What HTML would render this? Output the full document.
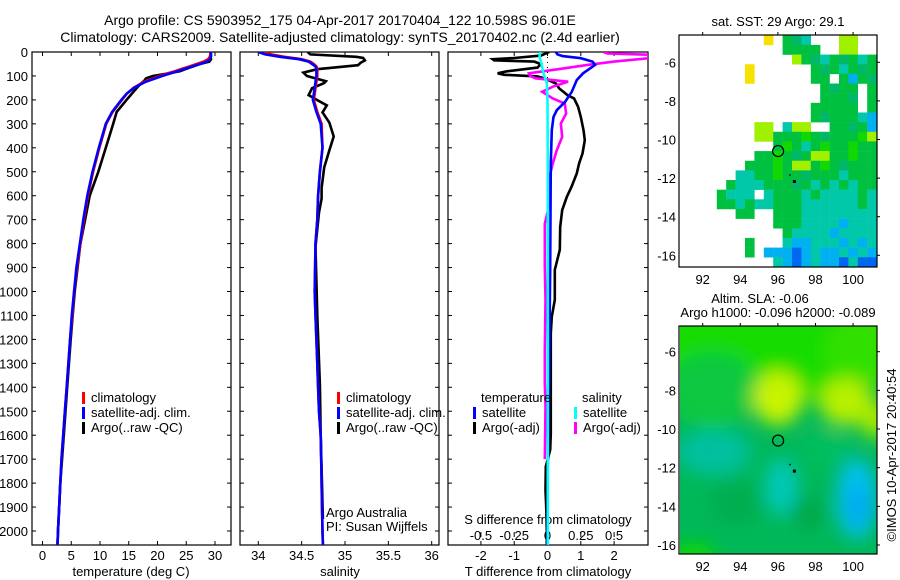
<!DOCTYPE html>
<html><head><meta charset="utf-8"><style>
html,body{margin:0;padding:0;background:#fff;}
svg{display:block;font-family:"Liberation Sans",Arial,sans-serif;}
</style></head><body>
<svg id="fig" width="900" height="580" viewBox="0 0 900 580" xmlns="http://www.w3.org/2000/svg">
<defs>
<clipPath id="c1"><rect x="32" y="52" width="199" height="493"/></clipPath>
<clipPath id="c2"><rect x="240" y="52" width="199" height="493"/></clipPath>
<clipPath id="c3"><rect x="448" y="52" width="200" height="493"/></clipPath>
<clipPath id="cm1"><rect x="679" y="35" width="198" height="232"/></clipPath>
<clipPath id="cm2"><rect x="680" y="326" width="197" height="228"/></clipPath>
<filter id="blur" x="-50%" y="-50%" width="200%" height="200%"><feGaussianBlur stdDeviation="9"/></filter>
</defs>
<g font-size="14" text-anchor="middle" fill="#000">
<text x="340" y="25">Argo profile: CS 5903952_175 04-Apr-2017 20170404_122 10.598S 96.01E</text>
<text x="340" y="42">Climatology: CARS2009. Satellite-adjusted climatology: synTS_20170402.nc (2.4d earlier)</text>
</g>
<g id="p1"></g>
<g id="p2"></g>
<g id="p3"></g>
<g id="m1"></g>
<g id="m2"></g>
<text x="0" y="0" font-size="13" text-anchor="middle" transform="translate(896,455) rotate(-90)">©IMOS 10-Apr-2017 20:40:54</text>
</svg>
<script>
// ---- data ----
const depthC = [0,10,20,30,40,50,60,70,80,90,100,125,150,175,200,250,300,400,500,600,700,800,900,1000,1100,1200,1300,1400,1500,1600,1700,1800,1900,2000,2058];
const tClim = [29.2,29.2,29.1,28.8,28.0,26.8,25.6,24.3,23.0,21.6,20.4,17.6,15.8,14.6,13.8,12.2,11.1,9.9,8.8,7.9,7.2,6.6,6.0,5.5,5.2,4.8,4.5,4.2,3.9,3.6,3.3,3.1,2.9,2.7,2.6];
const tSat = [29.3,29.3,29.3,29.1,28.6,27.4,26.1,24.8,23.5,22.1,20.8,17.9,15.9,14.6,13.7,12.1,11.0,9.8,8.7,7.8,7.1,6.5,5.9,5.5,5.1,4.8,4.5,4.2,3.9,3.6,3.3,3.1,2.9,2.7,2.6];
const depthA = [0,20,30,40,50,60,70,80,90,100,110,120,130,150,200,250,300,400,500,600,700,800,1000,1200,1400,1600,1800,2000,2058];
const tArgo = [29.2,29.2,29.3,29.0,27.4,26.2,25.0,23.9,21.6,19.2,18.0,17.7,17.2,16.4,14.6,12.9,12.3,11.0,9.7,8.2,7.4,6.6,5.6,4.9,4.3,3.7,3.1,2.7,2.6];
const sClim = [34.08,34.15,34.3,34.5,34.6,34.64,34.67,34.68,34.68,34.68,34.68,34.67,34.66,34.65,34.64,34.68,34.73,34.74,34.71,34.69,34.68,34.66,34.655,34.65,34.66,34.67,34.68,34.69,34.7,34.72,34.725,34.73,34.735,34.74,34.745];
const sSat = [34.0,34.08,34.25,34.47,34.58,34.62,34.66,34.67,34.67,34.67,34.67,34.66,34.65,34.64,34.63,34.67,34.72,34.74,34.71,34.69,34.68,34.66,34.655,34.65,34.66,34.67,34.68,34.69,34.7,34.72,34.725,34.73,34.735,34.74,34.745];
const depthSA = [0,10,20,25,35,45,55,72,86,100,122,130,151,180,201,223,252,295,353,410,482,568,612,670,813,1100,1390,1600,1800,1950];
const sArgo = [34.57,34.6,35.13,35.21,35.23,35.18,35.15,34.68,34.52,34.56,34.78,34.76,34.62,34.58,34.68,34.79,34.74,34.82,34.87,34.82,34.76,34.73,34.73,34.7,34.66,34.68,34.71,34.72,34.735,34.745];
const depthDT = [0,15,25,30,35,40,50,65,80,89,95,102,110,131,152,180,194,229,271,326,368,424,465,507,563,605,660,730,826,910,1035,1105,1175,1313,1452,1592,1661,1731,1828,1898,1996,2058];
const dtArgo = [0.05,-0.2,-1.0,-1.65,-1.6,-0.4,-0.2,-0.3,-1.2,-1.5,-1.3,-0.3,-0.1,0.25,0.35,0.6,0.8,0.92,1.0,1.08,1.12,1.05,0.95,0.88,0.72,0.58,0.44,0.38,0.37,0.22,0.22,0.13,0.1,0.1,0.1,0.1,0.08,-0.05,-0.06,-0.04,-0.02,-0.02];
const depthDS = [0,10,17,26,40,54,89,117,166,208,243,271,326,465,896,1175,1452,1731,2058];
const dtSat = [0.25,0.3,0.45,1.0,1.35,1.43,1.07,0.88,0.73,0.53,0.28,0.18,0.13,0.1,0.08,0.06,0.04,0.01,0.0];
const depthCS = [0,20,50,90,130,200,500,1000,1500,2058];
const dsSat = [-0.055,-0.06,-0.045,-0.03,-0.005,0,0.002,0.002,0.002,0.002];
const depthMS = [0,6,12,25,40,54,70,89,100,110,124,145,166,194,215,257,299,354,410,465,521,577,647,716,896,1035,1244,1383,1480,1700];
const dsArgo = [0.42,0.45,0.8,0.78,0.5,0.3,0.1,-0.14,-0.13,-0.09,0.155,0.04,-0.04,0.04,0.13,0.14,0.1,0.11,0.07,0.04,0.015,0.02,0.01,-0.02,-0.02,-0.015,-0.02,-0.02,-0.015,-0.02];
const depthTicks = [0,100,200,300,400,500,600,700,800,900,1000,1100,1200,1300,1400,1500,1600,1700,1800,1900,2000];
const tTicks = [0,5,10,15,20,25,30];
const sTicks = [34,34.5,35,35.5,36];
const dTTicks = [-2,-1,0,1,2];
const dSTicks = [-0.5,-0.25,0,0.25,0.5];
const dSTickLabels = ["-0.5","-0.25","0","0.25","0.5"];
const lonTicks = [92,94,96,98,100];
const latTicks = [-6,-8,-10,-12,-14,-16];
const sstRows = [
".........Y.gtc...yy..",
"...........gggg..yy..",
"............ygtcgtgcg",
".......Y......gtgcgtg",
".......Y......gg.gbgt",
"...............gtgg.g",
"...............gggt.g",
"..............ggggg.g",
"..............gtgggcb",
"........yy.cyy..ggtgb",
"........yygggGgtgggGy",
"..........gGgcgGggGgg",
"........ggGgtgyyggGgg",
".......gggGgyygGgtggg",
"......ccggGggtgggcggg",
".....gcccgggtgcgcgcgg",
"....gccc.cgggcgccccgc",
"....ggcgccgggccccccgc",
"......gg..gggcccccccc",
"..........gggccccbccc",
"...........gccccbcccc",
".......g...cbbcccbcbc",
".......g.bbbBbcbbcbcb",
"..........cbBbcbbBcBB"];
const argoLon = 96.01, argoLat = -10.6;

// ---- scales ----
const NS="http://www.w3.org/2000/svg";
const yD = d => 52 + d*0.2395;
const xT = t => 42.5 + t*5.75;
const xS = s => 258.3 + (s-34)*86.7;
const xDT = t => 547.5 + t*33.3;
const xDS = s => 547.5 + s*133.2;
const lonX = l => 702.7 + (l-92)*18.8;
const latY1 = a => 62.3 + (-6-a)*19.3;
const latY2 = a => 351.7 + (-6-a)*19.33;

function mk(tag, attrs, parent){
  const e=document.createElementNS(NS,tag);
  for(const k in attrs) e.setAttribute(k,attrs[k]);
  parent.appendChild(e); return e;
}
function txt(parent,x,y,s,anchor,size){
  const t=mk('text',{x:x,y:y,'font-size':size||13,'text-anchor':anchor||'middle'},parent);
  t.textContent=s; return t;
}
function line(parent,xs,ys,fx,color,clip,w){
  let d='';
  for(let i=0;i<xs.length;i++){ d+=(i?'L':'M')+fx(xs[i]).toFixed(1)+','+yD(ys[i]).toFixed(1); }
  return mk('path',{d:d,fill:'none',stroke:color,'stroke-width':w||2.6,'clip-path':'url(#'+clip+')'},parent);
}
function frame(parent,x0,x1){
  const f=mk('rect',{x:x0,y:52,width:x1-x0,height:493,fill:'none',stroke:'#000','stroke-width':1.2},parent);
  
  
  for(const d of depthTicks){
    mk('line',{x1:x0,x2:x0+4,y1:yD(d),y2:yD(d),stroke:'#000'},parent);
    mk('line',{x1:x1-4,x2:x1,y1:yD(d),y2:yD(d),stroke:'#000'},parent);
  }
}
function legend(parent,x,y,color,label){
  const g=mk('g',{},parent);
  
  
  mk('rect',{x:x,y:y-10,width:3,height:12,fill:color},g);
  txt(g,x+9,y,label,'start',13);
}

// ---- panel 1: temperature ----
const p1=document.getElementById('p1');
frame(p1,32,231);
for(const d of depthTicks){ const t=txt(p1,28,yD(d)+5,String(d),'end',13);   }
for(const t of tTicks){
  mk('line',{x1:xT(t),x2:xT(t),y1:545,y2:541,stroke:'#000'},p1);
  mk('line',{x1:xT(t),x2:xT(t),y1:52,y2:56,stroke:'#000'},p1);
  const l=txt(p1,xT(t),560,String(t));  
}
const xl1=txt(p1,131,576,'temperature (deg C)');  
let s;
s=line(p1,tArgo,depthA,xT,'#000','c1');  
s=line(p1,tClim,depthC,xT,'#f00','c1');  
s=line(p1,tSat,depthC,xT,'#00f','c1');  
legend(p1,82,402,'#f00','climatology');
legend(p1,82,417,'#00f','satellite-adj. clim.');
legend(p1,82,432,'#000','Argo(..raw -QC)');

// ---- panel 2: salinity ----
const p2=document.getElementById('p2');
frame(p2,240,439);
for(const v of sTicks){
  mk('line',{x1:xS(v),x2:xS(v),y1:545,y2:541,stroke:'#000'},p2);
  mk('line',{x1:xS(v),x2:xS(v),y1:52,y2:56,stroke:'#000'},p2);
  const l=txt(p2,xS(v),560,String(v));  
}
const xl2=txt(p2,340,576,'salinity');  
s=line(p2,sArgo,depthSA,xS,'#000','c2');  
s=line(p2,sClim,depthC,xS,'#f00','c2');  
s=line(p2,sSat,depthC,xS,'#00f','c2');  
legend(p2,337,402,'#f00','climatology');
legend(p2,337,417,'#00f','satellite-adj. clim.');
legend(p2,337,432,'#000','Argo(..raw -QC)');
const pa=txt(p2,326,517,'Argo Australia','start');  
const pi=txt(p2,326,531,'PI: Susan Wijffels','start');  

// ---- panel 3: differences ----
const p3=document.getElementById('p3');
frame(p3,448,648);
for(const v of dTTicks){
  mk('line',{x1:xDT(v),x2:xDT(v),y1:545,y2:541,stroke:'#000'},p3);
  mk('line',{x1:xDT(v),x2:xDT(v),y1:52,y2:56,stroke:'#000'},p3);
  const l=txt(p3,xDT(v),560,String(v));  
}
dSTicks.forEach((v,i)=>{
  mk('line',{x1:xDS(v),x2:xDS(v),y1:532,y2:537,stroke:'#000'},p3);
  const l=txt(p3,xDS(v),540,dSTickLabels[i]);  
});
mk('line',{x1:xDT(0),x2:xDT(0),y1:52,y2:125,stroke:'#000','stroke-dasharray':'1,4'},p3);
const st=txt(p3,548,524,'S difference from climatology');  
const tt=txt(p3,548,576,'T difference from climatology');  
s=line(p3,dtArgo,depthDT,xDT,'#000','c3');  
s=line(p3,dsArgo,depthMS,xDS,'#f0f','c3');  
s=line(p3,dtSat,depthDS,xDT,'#00f','c3');  
s=line(p3,dsSat,depthCS,xDS,'#0ff','c3');  
const lt=txt(p3,481,402,'temperature','start');  
legend(p3,473,417,'#00f','satellite');
legend(p3,473,432,'#000','Argo(-adj)');
const ls=txt(p3,582,402,'salinity','start');  
legend(p3,574,417,'#0ff','satellite');
legend(p3,574,432,'#f0f','Argo(-adj)');

// ---- maps ----
function mapAxes(g,top,bottom,latY){
  mk('rect',{x:679,y:top,width:198,height:bottom-top,fill:'none',stroke:'#000','stroke-width':1.2},g);
  for(const l of lonTicks){
    mk('line',{x1:lonX(l),x2:lonX(l),y1:top-3,y2:top,stroke:'#000'},g);
    const t=txt(g,lonX(l),bottom+17,String(l));  
  }
  for(const a of latTicks){
    mk('line',{x1:877,x2:880,y1:latY(a),y2:latY(a),stroke:'#000'},g);
    const t=txt(g,676,latY(a)+5,String(a),'end');  
  }
  mk('circle',{cx:lonX(argoLon),cy:latY(argoLat),r:5.5,fill:'none',stroke:'#000','stroke-width':1.2},g);
  mk('rect',{x:lonX(96.6),y:latY(-11.8),width:1.5,height:1.5,fill:'#000'},g);
  mk('rect',{x:lonX(96.85)-1,y:latY(-12.15)-1,width:3,height:3,fill:'#000'},g);
}
const colors={g:'#00c040',G:'#10d800',t:'#00b868',c:'#00c8a8',b:'#00b0f0',B:'#0068f0',y:'#a0f000',Y:'#f8e000'};
const m1=document.getElementById('m1');
const t1=txt(m1,778,26,'sat. SST: 29 Argo: 29.1');  
const cells=mk('g',{'clip-path':'url(#cm1)'},m1);


sstRows.forEach((row,r)=>{
  for(let c=0;c<row.length;c++){
    const ch=row[c]; if(!colors[ch]) continue;
    mk('rect',{x:lonX(90.75+0.5*c),y:latY1(-4.6-0.5*r),width:9.6,height:9.9,fill:colors[ch]},cells);
  }
});
mapAxes(m1,35,267,latY1);

const m2=document.getElementById('m2');
const t2=txt(m2,760,303,'Altim. SLA: -0.06');  
const t3=txt(m2,778,317,'Argo h1000: -0.096 h2000: -0.089');  
const fld=mk('g',{'clip-path':'url(#cm2)'},m2);


mk('rect',{x:679,y:326,width:198,height:228,fill:'#00b858'},fld);
const blobs=mk('g',{filter:'url(#blur)'},fld);
const blobList=[
 [96,-5.5,7,3.2,'#18dc00'],[92.5,-8,2.5,2,'#10c840'],[100.5,-6,2,2,'#30e000'],
 [96,-8.4,1.3,1.4,'#c8f400'],[99.6,-8.6,1.4,1.2,'#b8f000'],[101.2,-9.5,0.8,1,'#a8e800'],
 [92.6,-11.2,2,1.2,'#00c0a0'],[96.2,-13,0.9,1.5,'#00c8b8'],[100.2,-13.6,1.1,2.1,'#00c0f0'],
 [100.3,-14,0.6,1,'#00a8f0'],[97.6,-14.3,0.9,0.9,'#00a848'],[93.8,-13.8,1.4,1.2,'#00ae50'],
 [91.5,-16.5,1.2,0.6,'#10d800'],[98.5,-11,1.2,0.8,'#00c060']];
for(const b of blobList){
  mk('ellipse',{cx:lonX(b[0]),cy:latY2(b[1]),rx:b[2]*18.8,ry:b[3]*19.3,fill:b[4]},blobs);
}
mapAxes(m2,326,554,latY2);
</script>
</body></html>
